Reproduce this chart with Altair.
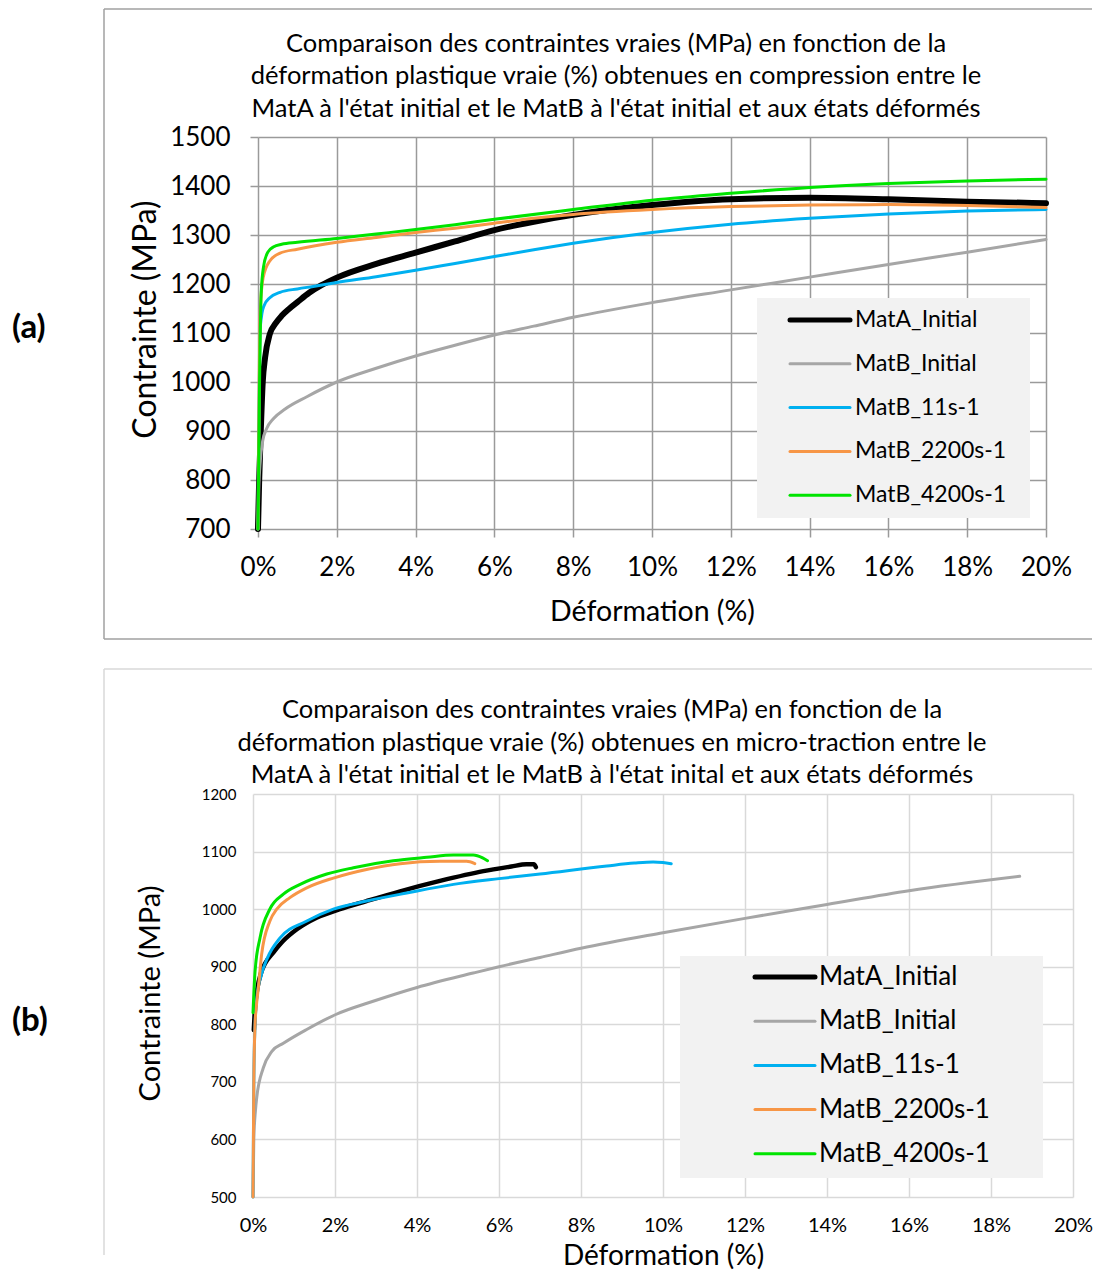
import altair as alt
import pandas as pd

FONT = "Lato"
SERIES = ["MatA_Initial", "MatB_Initial", "MatB_11s-1", "MatB_2200s-1", "MatB_4200s-1"]
COLORS = ["#000000", "#a6a6a6", "#00b0f0", "#f79646", "#00e400"]
X_TICKS = [0, 2, 4, 6, 8, 10, 12, 14, 16, 18, 20]
Y_TICKS_A = [700, 800, 900, 1000, 1100, 1200, 1300, 1400, 1500]
Y_TICKS_B = [500, 600, 700, 800, 900, 1000, 1100, 1200]

TITLE_A = ["Comparaison des contraintes vraies (MPa) en fonction de la",
           "déformation plastique vraie (%) obtenues en compression entre le",
           "MatA à l'état initial et le MatB à l'état initial et aux états déformés"]
TITLE_B = ["Comparaison des contraintes vraies (MPa) en fonction de la",
           "déformation plastique vraie (%) obtenues en micro-traction entre le",
           "MatA à  l'état initial et le MatB à l'état inital et aux états déformés"]

# ---- (a) compression : strain (%) / stress (MPa)
a_mata_x = [0, 0.03, 0.07, 0.12, 0.18, 0.3, 0.45, 0.6, 0.8, 1.0, 1.3, 1.6, 2, 3, 4, 5, 6, 7, 8, 10, 12, 14, 16, 18, 20]
a_mata_y = [700, 800, 900, 1000, 1050, 1098, 1120, 1135, 1150, 1163, 1182, 1197, 1213, 1241, 1264, 1287, 1310, 1327, 1341, 1361, 1373, 1376, 1373, 1368, 1365]
a_matb_x = [0, 0.02, 0.06, 0.12, 0.22, 0.39, 0.69, 1.24, 2, 3, 4, 5, 6, 7, 8, 10, 12, 14, 16, 18, 20]
a_matb_y = [700, 780, 840, 880, 905, 925, 945, 970, 1000, 1028, 1053, 1075, 1096, 1114, 1132, 1162, 1188, 1214, 1240, 1265, 1291]
a_11_x = [0, 0.02, 0.05, 0.1, 0.15, 0.3, 0.56, 1, 1.4, 2, 3, 4, 5, 6, 7, 8, 10, 12, 14, 16, 18, 20]
a_11_y = [700, 900, 1100, 1140, 1155, 1172, 1183, 1190, 1195, 1203, 1215, 1228, 1242, 1256, 1270, 1283, 1305, 1322, 1334, 1343, 1349, 1352]
a_2200_x = [0, 0.03, 0.06, 0.13, 0.3, 0.56, 1, 2, 3, 4, 5, 6, 7, 8, 10, 12, 14, 16, 18, 20]
a_2200_y = [700, 1000, 1150, 1213, 1247, 1263, 1271, 1285, 1295, 1305, 1314, 1324, 1334, 1342, 1352, 1358, 1361, 1362, 1360, 1356]
a_4200_x = [0, 0.04, 0.08, 0.14, 0.25, 0.4, 0.6, 1, 2, 3, 4, 5, 6, 8, 10, 12, 14, 16, 18, 20]
a_4200_y = [700, 1000, 1180, 1235, 1265, 1276, 1281, 1285, 1293, 1302, 1311, 1321, 1332, 1352, 1371, 1385, 1397, 1405, 1410, 1414]

# ---- (b) micro-traction
b_mata_x = [0.02, 0.05, 0.1, 0.2, 0.29, 0.5, 0.74, 1.07, 1.55, 2.12, 2.77, 3.59, 4.56, 5.62, 6.3, 6.67, 6.85, 6.9]
b_mata_y = [790, 830, 860, 890, 905, 925, 945, 965, 985, 1000, 1014, 1031, 1049, 1066, 1074, 1078, 1078, 1073]
b_matb_x = [0, 0.02, 0.06, 0.09, 0.25, 0.46, 0.74, 1.31, 2.02, 2.93, 4, 5.37, 6, 7, 8, 10, 12, 14, 16, 18.7]
b_matb_y = [500, 600, 650, 672, 724, 753, 767, 791, 817, 840, 864, 889, 900, 916, 932, 959, 984, 1008, 1032, 1057]
b_11_x = [0, 0.02, 0.05, 0.1, 0.2, 0.35, 0.66, 1.3, 1.96, 2.77, 3.75, 4.89, 6, 7, 8.63, 9.3, 9.76, 10.0, 10.2]
b_11_y = [500, 700, 800, 850, 885, 915, 950, 979, 1000, 1014, 1028, 1043, 1053, 1061, 1075, 1080, 1082, 1081, 1079]
b_2200_x = [0, 0.02, 0.05, 0.08, 0.13, 0.21, 0.41, 0.58, 0.9, 1.31, 1.96, 2.77, 3.59, 4.56, 5.21, 5.41]
b_2200_y = [500, 700, 800, 830, 863, 921, 979, 1000, 1020, 1037, 1054, 1069, 1079, 1083, 1083, 1079]
b_4200_x = [0, 0.05, 0.17, 0.41, 0.74, 1.15, 1.8, 2.45, 3.42, 4.24, 4.89, 5.37, 5.6, 5.72]
b_4200_y = [820, 892, 950, 1000, 1026, 1043, 1061, 1072, 1084, 1090, 1094, 1094, 1089, 1084]

ONE = pd.DataFrame({"k": [0]})


def make_df(xs, ys):
    rows = []
    for name, x, y in zip(SERIES, xs, ys):
        for i, (a, b) in enumerate(zip(x, y)):
            rows.append({"series": name, "strain": a, "stress": b, "i": i})
    return pd.DataFrame(rows)


def vrule(x, x2, y, y2, color, w, cap="butt"):
    return alt.Chart(ONE).mark_rule(color=color, strokeWidth=w, strokeCap=cap).encode(
        x=alt.value(x), x2=alt.value(x2), y=alt.value(y), y2=alt.value(y2))


def vtext(txt, x, y, size, align="center", weight="normal"):
    return alt.Chart(ONE).mark_text(text=txt, font=FONT, fontSize=size, align=align,
                                    baseline="middle", fontWeight=weight, color="black").encode(
        x=alt.value(x), y=alt.value(y))


def panel(df, cfg):
    sh = cfg["shift"]
    xscale = alt.Scale(domain=[0, 20], nice=False, zero=False, range=[sh, sh + cfg["w"]])
    yscale = alt.Scale(domain=cfg["ydom"], nice=False, zero=False)
    xaxis = alt.Axis(values=X_TICKS, labelExpr="datum.value + '%'", title="Déformation (%)",
                     grid=True, gridColor=cfg["grid"], gridWidth=1.5, domain=False,
                     ticks=cfg["ticks"], tickColor=cfg["grid"], tickSize=8, tickWidth=1.5,
                     labelFont=FONT, labelFontSize=cfg["xlab"], labelColor="#000",
                     labelPadding=cfg["xlp"], labelFlush=False, labelOverlap=False,
                     titleFont=FONT, titleFontSize=cfg["xtit"], titleFontWeight="normal",
                     titleColor="#000", titleY=cfg["xty"], titleBaseline="middle")
    yaxis = alt.Axis(values=cfg["yticks"], format="d", title="Contrainte (MPa)",
                     grid=True, gridColor=cfg["grid"], gridWidth=1.5, domain=False,
                     ticks=cfg["ticks"], tickColor=cfg["grid"], tickSize=8, tickWidth=1.5,
                     labelFont=FONT, labelFontSize=cfg["ylab"], labelColor="#000",
                     labelPadding=cfg["ylp"], labelFlush=False, labelOverlap=False,
                     titleFont=FONT, titleFontSize=cfg["ytit"], titleFontWeight="normal",
                     titleColor="#000", titleX=cfg["ytx"], titleY=cfg["yty"],
                     titleBaseline="middle", titleAlign="center", titleAngle=270,
                     offset=-sh)
    layers = []
    fl, fr, ft, fb = cfg["frame"]
    layers.append(vrule(fl + sh, fr + sh, ft, ft, cfg["fcol"], 1.5))
    layers.append(vrule(fl + sh, fl + sh, ft, fb, cfg["fcol"], 1.5))
    if cfg["fbottom"]:
        layers.append(vrule(fl + sh, fr + sh, fb, fb, cfg["fcol"], 1.5))
    for name, color, w in zip(SERIES, COLORS, cfg["widths"]):
        layers.append(
            alt.Chart(df).transform_filter(alt.datum.series == name)
            .mark_line(color=color, strokeWidth=w, interpolate="monotone",
                       strokeCap="round", strokeJoin="round")
            .encode(x=alt.X("strain:Q", scale=xscale, axis=xaxis),
                    y=alt.Y("stress:Q", scale=yscale, axis=yaxis),
                    order="i:Q"))
    bl, br, bt, bb = cfg["lbox"]
    layers.append(alt.Chart(ONE).mark_rect(color="#f2f2f2").encode(
        x=alt.value(bl + sh), x2=alt.value(br + sh), y=alt.value(bt), y2=alt.value(bb)))
    s0, s1, tx = cfg["lsample"]
    for k, (name, color, w) in enumerate(zip(SERIES, COLORS, cfg["lwidths"])):
        yy = cfg["ly0"] + k * cfg["lstep"]
        layers.append(vrule(s0 + sh, s1 + sh, yy, yy, color, w, cap="round"))
        layers.append(vtext(name, tx + sh, yy, cfg["lfs"], align="left"))
    for line, (cx, cy) in zip(cfg["title"], cfg["tpos"]):
        layers.append(vtext(line, cx + sh, cy, cfg["tfs"]))
    layers.append(vtext(cfg["tag"], cfg["tagpos"][0] + sh, cfg["tagpos"][1], 33, align="left", weight="bold"))
    return alt.layer(*layers).properties(width=cfg["w"] + sh, height=cfg["h"])


df_a = make_df([a_mata_x, a_matb_x, a_11_x, a_2200_x, a_4200_x],
               [a_mata_y, a_matb_y, a_11_y, a_2200_y, a_4200_y])
df_b = make_df([b_mata_x, b_matb_x, b_11_x, b_2200_x, b_4200_x],
               [b_mata_y, b_matb_y, b_11_y, b_2200_y, b_4200_y])

# coordinates below are relative to each plot's 0% / top gridline
cfg_a = dict(shift=5, ydom=[700, 1500], yticks=Y_TICKS_A, grid="#9a9a9a", ticks=True,
             xlab=26, ylab=26, xtit=28.5, ytit=32,
             xlp=17, ylp=20, xty=82, ytx=-113, yty=182, w=788, h=392,
             frame=(-154, 834, -128, 502), fcol="#a0a0a0", fbottom=True,
             widths=[6, 3, 3, 3, 3], lwidths=[5, 3, 3, 3, 3],
             lbox=(499, 772, 161, 381), lsample=(532, 592, 597), ly0=183, lstep=43.8, lfs=23,
             title=TITLE_A, tpos=[(358, -93), (358, -61), (358, -28)], tfs=25.5,
             tag="(a)", tagpos=(-246, 191))
cfg_b = dict(shift=0, ydom=[500, 1200], yticks=Y_TICKS_B, grid="#d9d9d9", ticks=False,
             xlab=20, ylab=15, xtit=28, ytit=29,
             xlp=18, ylp=17, xty=59, ytx=-103, yty=199, w=820, h=403,
             frame=(-149, 839, -125, 461), fcol="#d9d9d9", fbottom=False,
             widths=[4.5, 3, 3, 3, 3], lwidths=[5, 3, 3, 3, 3],
             lbox=(427, 790, 162, 384), lsample=(502, 562, 566), ly0=183, lstep=44.2, lfs=26,
             title=TITLE_B, tpos=[(359, -84), (359, -51), (359, -19)], tfs=25.5,
             tag="(b)", tagpos=(-241, 227))

chart = alt.concat(panel(df_a, cfg_a), panel(df_b, cfg_b), columns=1, spacing=28).properties(
    padding={"left": 4, "top": 0, "right": 0, "bottom": 0}
).configure_view(strokeWidth=0)

chart.save("out.html", embed_options={"renderer": "svg", "actions": False})
